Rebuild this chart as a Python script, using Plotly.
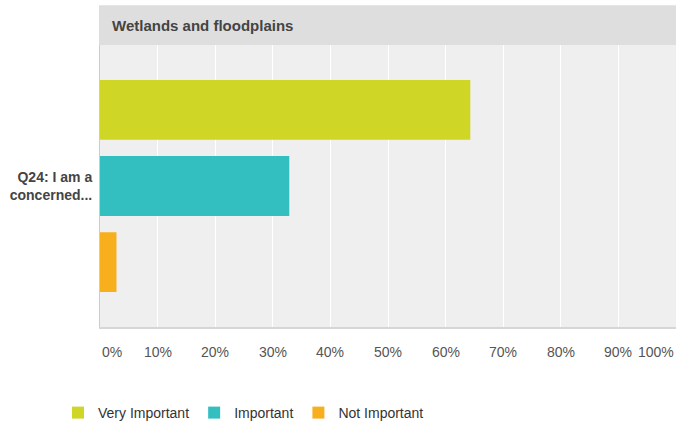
import plotly.graph_objects as go

question = ["<b>Q24: I am a<br>concerned...</b>"]
series_names = ["Very Important", "Important", "Not Important"]
series_values = [64.29, 32.86, 2.86]
series_colors = ["#d0d626", "#33bec0", "#f7af1e"]
tick_values = [0, 10, 20, 30, 40, 50, 60, 70, 80, 90, 100]
tick_labels = ["0%", "10%", "20%", "30%", "40%", "50%", "60%", "70%", "80%", "90%", "100%"]
panel_title = "Wetlands and floodplains"

W, H = 676, 429
ML, MR, MT, MB = 100, 0, 45, 101
PW, PH = W - ML - MR, H - MT - MB
FONT = "Liberation Sans, Arial, sans-serif"

fig = go.Figure()
for name, val, col in zip(series_names, series_values, series_colors):
    fig.add_trace(go.Bar(
        name=name, x=[val], y=question, orientation="h",
        marker=dict(color=col, line=dict(width=0)),
        hoverinfo="x+name",
    ))

annotations = []
for v, t in zip(tick_values, tick_labels):
    if v == tick_values[0]:
        anchor, shift = "left", 0
    elif v == tick_values[-1]:
        anchor, shift = "right", 0
    else:
        anchor, shift = "center", 0
    annotations.append(dict(
        x=v, xref="x", y=-25 / PH, yref="paper", text=t, showarrow=False,
        xanchor=anchor, yanchor="middle", xshift=shift,
        font=dict(family=FONT, size=14, color="#555555"),
    ))
annotations.append(dict(
    x=10 / PW, xref="paper", y=1 + 20 / PH, yref="paper",
    text="<b>" + panel_title + "</b>", showarrow=False,
    xanchor="left", yanchor="middle",
    font=dict(family=FONT, size=15, color="#444444"),
))

fig.update_layout(
    width=W, height=H,
    margin=dict(l=ML, r=MR, t=MT, b=MB, pad=0),
    paper_bgcolor="#ffffff", plot_bgcolor="#efefef",
    barmode="group", bargap=0.189, bargroupgap=0.216,
    showlegend=True,
    legend=dict(
        orientation="h", x=(58 - ML) / PW, xanchor="left",
        y=-(414 - 328) / PH, yanchor="middle",
        font=dict(family=FONT, size=14, color="#333333"),
        traceorder="normal", itemclick=False,
    ),
    xaxis=dict(
        range=[0, 100], tickvals=tick_values, showticklabels=False,
        showgrid=True, gridcolor="#ffffff", gridwidth=1.3,
        zeroline=False, showline=True, linecolor="#d6d6d6", linewidth=2,
        fixedrange=True,
    ),
    yaxis=dict(
        range=[0.5, -0.5], type="category",
        showgrid=False, zeroline=False, showline=True, linecolor="#cccccc", linewidth=1,
        ticks="", ticklabelstandoff=4,
        tickfont=dict(family=FONT, size=14, color="#444444"),
        fixedrange=True,
    ),
    shapes=[dict(
        type="rect", xref="paper", yref="paper",
        x0=-1 / PW, x1=1, y0=1, y1=1 + 40 / PH,
        fillcolor="#dedede", line=dict(width=0), layer="below",
    )],
    annotations=annotations,
)

fig.write_html(
    "out.html",
    config={"displayModeBar": False},
    post_script="document.body.style.margin='0px';document.body.style.overflow='hidden';",
)
